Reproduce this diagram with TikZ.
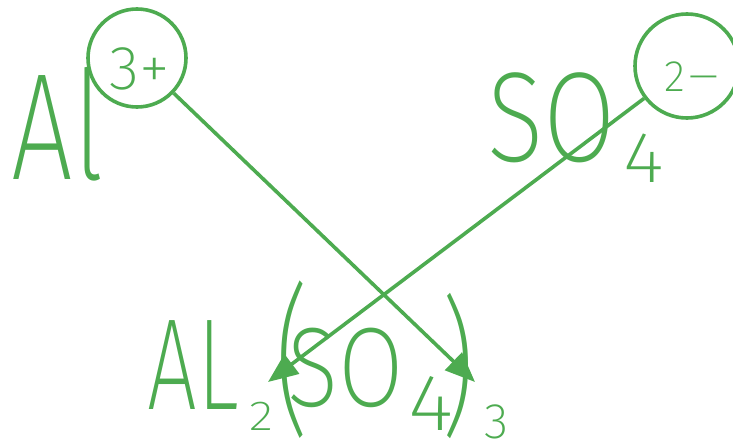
\documentclass[tikz,border=0pt]{standalone}
\usepackage{fontspec}
\usepackage{graphicx}
\usetikzlibrary{arrows.meta}
\IfFontExistsTF{Fira Sans ExtraLight}{\newfontfamily\hand{Fira Sans ExtraLight}}{%
 \IfFontExistsTF{Fira Sans Light}{\newfontfamily\hand{Fira Sans Light}}{%
  \IfFontExistsTF{DejaVu Sans ExtraLight}{\newfontfamily\hand{DejaVu Sans ExtraLight}}{%
   \IfFontExistsTF{Lato Light}{\newfontfamily\hand{Lato Light}}{%
    \IfFontExistsTF{Open Sans Light}{\newfontfamily\hand{Open Sans Light}}{%
     \newfontfamily\hand{Fira Sans}}}}}}
\definecolor{ink}{RGB}{77,171,80}
\tikzset{
  hw/.style={text=ink, inner sep=0pt, anchor=center},
  ring/.style={draw=ink, line width=3.6pt, circle, inner sep=0pt},
  conn/.style={draw=ink, line width=3.6pt, -{Triangle[length=30pt,width=24pt]}}
}
\begin{document}
\begin{tikzpicture}[x=1pt,y=-1pt]
\useasboundingbox (0,0) rectangle (733,442);
% top left: Al^{3+}
\node[hw, font=\hand\fontsize{152}{152}\selectfont] (al) at (58,124) {\scalebox{0.72}[1]{Al}};
\node[ring, minimum size=98pt] (c1) at (137,58) {};
\node[hw, font=\hand\fontsize{62}{62}\selectfont] (q1) at (140,69) {3+};
% top right: SO4^{2-}
\node[hw, font=\hand\fontsize{128}{128}\selectfont] (so) at (552,118) {\scalebox{0.82}[1]{SO}};
\node[hw, font=\hand\fontsize{72}{72}\selectfont] (s4) at (644,158) {\scalebox{1.1}[1]{4}};
\node[ring, minimum size=104pt] (c2) at (687,66) {};
\node[hw, font=\hand\fontsize{44}{44}\selectfont] (q2) at (693,77) {2\scalebox{1.7}[1]{−}};
% bottom: Al2(SO4)3
\node[hw, font=\hand\fontsize{130}{130}\selectfont] (bal) at (193,365) {\scalebox{0.68}[1]{AL}};
\node[hw, font=\hand\fontsize{42}{42}\selectfont] (b2) at (261,416) {\scalebox{1.2}[1]{2}};
\node[hw, font=\hand\fontsize{130}{130}\selectfont] (lp) at (292,360) {\scalebox{0.8}[1.25]{(}};
\node[hw, font=\hand\fontsize{113}{113}\selectfont] (bso) at (346,368) {\scalebox{0.84}[1]{SO}};
\node[hw, font=\hand\fontsize{80}{80}\selectfont] (b4) at (431,403) {\scalebox{1.1}[1]{4}};
\node[hw, font=\hand\fontsize{120}{120}\selectfont] (rp) at (458,366) {\scalebox{0.85}[1.25]{)}};
\node[hw, font=\hand\fontsize{50}{50}\selectfont] (b3) at (497,422) {3};
% arrow tips
\coordinate (t1) at (475,382);
\coordinate (t2) at (268,382);
\draw[conn] (c1) -- (t1);
\draw[conn] (c2) -- (t2);
\end{tikzpicture}
\end{document}
